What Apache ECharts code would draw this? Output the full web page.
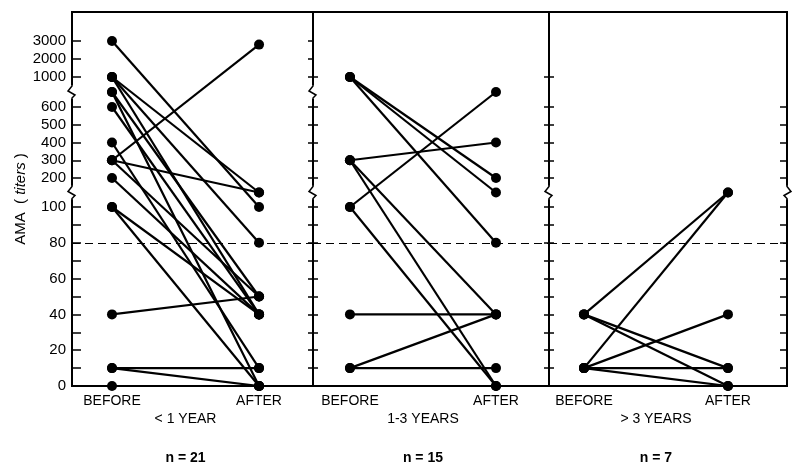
<!DOCTYPE html>
<html><head><meta charset="utf-8">
<script src="https://cdn.jsdelivr.net/npm/echarts@6/dist/echarts.min.js"></script>
<style>html,body{margin:0;padding:0;background:#fff}#c{width:800px;height:471px}</style>
</head><body><div id="c"></div>
<script>
// ---- text ----
const groups = ['< 1 YEAR', '1-3 YEARS', '> 3 YEARS'];
const groupN = ['n = 21', 'n = 15', 'n = 7'];
const sides = ['BEFORE', 'AFTER'];
const yTitle = 'AMA';
const yTitleItalic = 'titers';
// ---- tick labels ----
const yTickLabels = [0, 20, 40, 60, 80, 100, 200, 300, 400, 500, 600, 1000, 2000, 3000];
const yMinorTicks = [10, 30, 50, 70, 90];
const threshold = 80;
// ---- broken-axis scale (titer value -> axis position) ----
const scaleVals = [0, 100, 200, 600, 1000, 3000];
const scalePos  = [0, 179, 208, 279, 309, 345];
const scaleTop = 374;
const breakVals = [150, 800];
// ---- data: paired titers (before -> after) ----
const p1Before = [3000, 1000, 1000, 1000, 800, 800, 600, 400, 300, 300, 300, 200, 100, 100, 40, 10, 10, 0];
const p1After  = [100, 150, 80, 40, 50, 0, 40, 10, 2800, 150, 50, 40, 40, 0, 50, 10, 0, 0];
const p2Before = [1000, 1000, 1000, 300, 300, 300, 100, 100, 40, 10, 10];
const p2After  = [200, 150, 80, 400, 40, 0, 800, 0, 40, 40, 10];
const p3Before = [40, 40, 40, 10, 10, 10, 10];
const p3After  = [150, 10, 0, 150, 40, 10, 0];

function toU(v) {
  for (let i = 1; i < scaleVals.length; i++) {
    if (v <= scaleVals[i]) {
      const a = scaleVals[i - 1], b = scaleVals[i];
      return scalePos[i - 1] + (v - a) / (b - a) * (scalePos[i] - scalePos[i - 1]);
    }
  }
  return scalePos[scalePos.length - 1];
}
function labelFor(u) {
  for (const t of yTickLabels) if (Math.abs(toU(t) - u) < 0.01) return String(t);
  return '';
}

const panels = [
  { before: p1Before, after: p1After, left: 72, width: 241, xmin: -0.272, xmax: 1.367 },
  { before: p2Before, after: p2After, left: 313, width: 236, xmin: -0.253, xmax: 1.363 },
  { before: p3Before, after: p3After, left: 549, width: 238, xmin: -0.243, xmax: 1.41 }
];

const FONT = 'Liberation Sans, Arial, sans-serif';
const allTicks = yTickLabels.concat(yMinorTicks);
const grids = [], xAxes = [], yAxes = [], series = [];
const mainYIndex = [];

panels.forEach((p, i) => {
  grids.push({ left: p.left, width: p.width, top: 12, height: 374, show: true,
    borderColor: '#000', borderWidth: 2, backgroundColor: 'transparent', outerBoundsMode: 'none', containLabel: false });
  xAxes.push({
    gridIndex: i, type: 'value', min: p.xmin, max: p.xmax,
    axisLine: { show: false, onZero: false }, axisTick: { show: false }, splitLine: { show: false },
    axisLabel: {
      customValues: [0, 0.5, 1], margin: 7, color: '#000', fontFamily: FONT, fontSize: 14,
      formatter: v => v === 0 ? '{b|' + sides[0] + '}' : v === 1 ? '{b|' + sides[1] + '}'
        : '{s| }\n{g|' + groups[i] + '}\n{s2| }\n{n|' + groupN[i] + '}',
      rich: {
        b: { lineHeight: 16, fontSize: 14, fontFamily: FONT, color: '#000' },
        s: { lineHeight: 18, fontSize: 10 },
        g: { lineHeight: 16, fontSize: 14, fontFamily: FONT, color: '#000' },
        s2: { lineHeight: 23, fontSize: 10 },
        n: { lineHeight: 16, fontSize: 14, fontWeight: 'bold', fontFamily: FONT, color: '#000' }
      }
    }
  });
});

const baseY = (g) => ({ gridIndex: g, type: 'value', min: 0, max: scaleTop, splitLine: { show: false },
  axisLine: { show: true, onZero: false, lineStyle: { color: '#000', width: 2 } } });

// panel 1 main axis
mainYIndex.push(yAxes.length);
yAxes.push(Object.assign(baseY(0), {
  position: 'left',
  axisTick: { show: true, inside: true, length: 9, lineStyle: { color: '#000', width: 1.5 }, customValues: allTicks.map(toU) },
  axisLabel: { customValues: yTickLabels.map(toU), formatter: labelFor, color: '#000', fontFamily: FONT, fontSize: 15, margin: 6 },
  name: '{a|' + yTitle + '}  ( {i|' + yTitleItalic + '} )', nameLocation: 'middle', nameRotate: 90, nameGap: 44,
  nameTextStyle: { rich: { a: { fontFamily: FONT, fontSize: 15, color: '#000' }, i: { fontFamily: FONT, fontSize: 15, fontStyle: 'italic', color: '#000' } }, fontFamily: FONT, fontSize: 15, color: '#000' }
}));
// panel 2 left divider: crossing ticks
mainYIndex.push(yAxes.length);
yAxes.push(Object.assign(baseY(1), { position: 'left', axisLabel: { show: false },
  axisTick: { show: true, inside: true, length: 5, lineStyle: { color: '#000', width: 1.5 }, customValues: allTicks.filter(t => t <= 1000).map(toU) } }));
yAxes.push(Object.assign(baseY(1), { position: 'left', axisLabel: { show: false },
  axisTick: { show: true, inside: false, length: 5, lineStyle: { color: '#000', width: 1.5 }, customValues: allTicks.map(toU) } }));
// panel 3 left divider
mainYIndex.push(yAxes.length);
yAxes.push(Object.assign(baseY(2), { position: 'left', axisLabel: { show: false },
  axisTick: { show: true, inside: true, length: 5, lineStyle: { color: '#000', width: 1.5 }, customValues: allTicks.filter(t => t <= 1000).map(toU) } }));
yAxes.push(Object.assign(baseY(2), { position: 'left', axisLabel: { show: false },
  axisTick: { show: true, inside: false, length: 5, lineStyle: { color: '#000', width: 1.5 }, customValues: allTicks.filter(t => t <= 1000).map(toU) } }));
// panel 3 right edge
yAxes.push(Object.assign(baseY(2), { position: 'right', axisLabel: { show: false },
  axisTick: { show: true, inside: true, length: 7, lineStyle: { color: '#000', width: 1.5 }, customValues: allTicks.filter(t => t <= 600).map(toU) } }));

panels.forEach((p, i) => {
  p.before.forEach((b, k) => {
    const s = {
      type: 'line', xAxisIndex: i, yAxisIndex: mainYIndex[i],
      data: [[0, toU(b)], [1, toU(p.after[k])]],
      symbol: 'circle', symbolSize: 10, showSymbol: true,
      itemStyle: { color: '#000' }, lineStyle: { color: '#000', width: 2.2 },
      silent: true, animation: false, z: 3
    };
    if (k === 0) {
      s.markLine = { silent: true, symbol: 'none', label: { show: false }, animation: false,
        lineStyle: { color: '#000', width: 1.2, type: [8, 5] }, data: [{ yAxis: toU(threshold) }] };
    }
    series.push(s);
  });
});

const chart = echarts.init(document.getElementById('c'), null, { renderer: 'canvas' });
chart.setOption({ animation: false, backgroundColor: '#fff', grid: grids, xAxis: xAxes, yAxis: yAxes, series: series });

// zig-zag break marks on the vertical frame lines
const graphics = [];
const edges = [];
panels.forEach((p, i) => edges.push({ g: i, x: p.xmin, breaks: i === 2 ? [breakVals[0]] : breakVals, dir: -1 }));
edges.push({ g: 2, x: panels[2].xmax, breaks: [breakVals[0]], dir: 1 });
edges.forEach(e => {
  e.breaks.forEach(bv => {
    const pt = chart.convertToPixel({ gridIndex: e.g }, [e.x, toU(bv)]);
    const x = pt[0], y = pt[1], d = e.dir;
    graphics.push({ type: 'rect', shape: { x: x - 2, y: y - 7, width: 4, height: 14 }, style: { fill: '#fff' }, z: 10 });
    graphics.push({ type: 'polyline', shape: { points: [[x, y - 8], [x, y - 6], [x + 4 * d, y - 1], [x - 3 * d, y + 3], [x, y + 6], [x, y + 8]] },
      style: { stroke: '#000', lineWidth: 1.5, fill: null }, z: 11 });
  });
});
chart.setOption({ graphic: graphics });
</script></body></html>
